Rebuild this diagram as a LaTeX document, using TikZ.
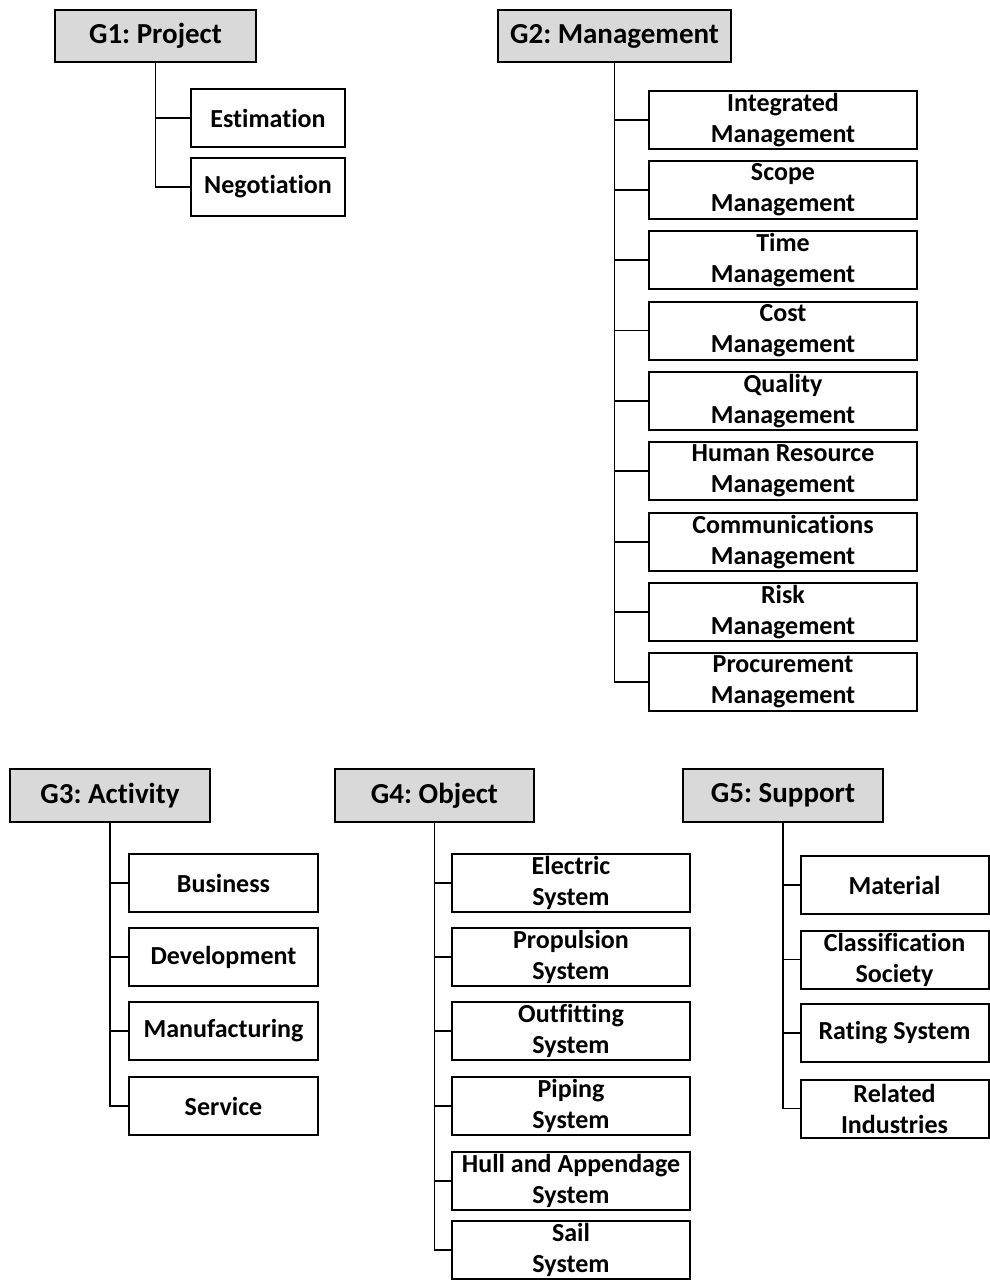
\documentclass[tikz,border=0pt]{standalone}
\usepackage{fontspec}
\setmainfont{Carlito}[Ligatures=NoCommon]
\frenchspacing
\begin{document}
\begin{tikzpicture}[x=1pt,y=-1pt,
  head/.style={draw=black,line width=2pt,fill=headgray,inner sep=0pt,
    font=\fontsize{29}{32}\selectfont\bfseries,text=black},
  item/.style={draw=black,line width=2pt,fill=white,inner sep=0pt,align=center,
    minimum height=58pt,font=\fontsize{26}{31}\selectfont\bfseries,text=black},
  link/.style={draw=black,line width=1.5pt}]
\definecolor{headgray}{HTML}{D9D9D9}
\useasboundingbox (0,0) rectangle (990,1280);

% group 1
\node[head,minimum width=201pt,minimum height=52pt] (g1) at (155.5,36) {G1: Project};
\node[item,minimum width=154pt] (g1a) at (268,118) {Estimation};
\node[item,minimum width=154pt] (g1b) at (268,187) {Negotiation};
\foreach \n in {g1a,g1b} \draw[link] (g1.south) |- (\n.west);

% group 2
\node[head,minimum width=233pt,minimum height=52pt] (g2) at (614.5,36) {G2: Management};
\foreach \n/\y/\t in {g2a/120/Integrated, g2b/190/Scope, g2c/260/Time,
    g2d/330.5/Cost, g2e/401/Quality, g2f/471/Human Resource,
    g2g/542/Communications, g2h/612/Risk, g2i/682/Procurement}
  \node[item,minimum width=268pt] (\n) at (783,\y) {\t\\Management};
\foreach \n in {g2a,g2b,g2c,g2d,g2e,g2f,g2g,g2h,g2i} \draw[link] (g2.south) |- (\n.west);

% group 3
\node[head,minimum width=200pt,minimum height=53pt] (g3) at (110,795.5) {G3: Activity};
\foreach \n/\y/\t in {g3a/883/Business, g3b/957/Development,
    g3c/1031/Manufacturing, g3d/1106/Service}
  \node[item,minimum width=189pt] (\n) at (223.5,\y) {\t};
\foreach \n in {g3a,g3b,g3c,g3d} \draw[link] (g3.south) |- (\n.west);

% group 4
\node[head,minimum width=199pt,minimum height=53pt] (g4) at (434.5,795.5) {G4: Object};
\foreach \n/\y/\t in {g4a/883/Electric, g4b/957/Propulsion, g4c/1031/Outfitting,
    g4d/1106/Piping, g4e/1181/Hull and Appendage, g4f/1250/Sail}
  \node[item,minimum width=238pt] (\n) at (571,\y) {\t\\System};
\foreach \n in {g4a,g4b,g4c,g4d,g4e,g4f} \draw[link] (g4.south) |- (\n.west);

% group 5
\node[head,minimum width=200pt,minimum height=53pt] (g5) at (783,795.5) {G5: Support};
\node[item,minimum width=188pt] (g5a) at (894.5,885) {Material};
\node[item,minimum width=188pt] (g5b) at (894.5,959.5) {Classification\\Society};
\node[item,minimum width=188pt] (g5c) at (894.5,1033) {Rating System};
\node[item,minimum width=188pt] (g5d) at (894.5,1108.5) {Related\\Industries};
\foreach \n in {g5a,g5b,g5c,g5d} \draw[link] (g5.south) |- (\n.west);
\end{tikzpicture}
\end{document}
